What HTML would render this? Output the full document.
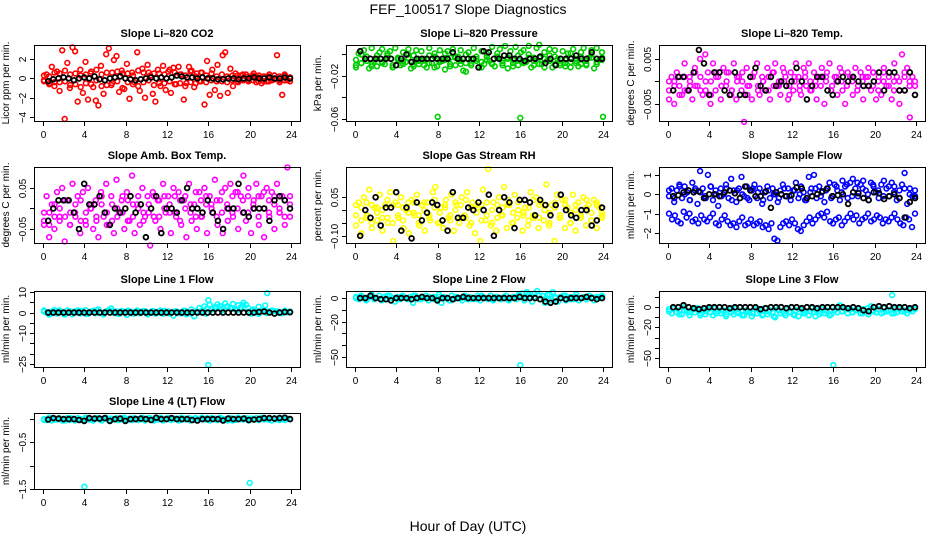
<!DOCTYPE html>
<html><head><meta charset="utf-8"><style>
body{margin:0;background:#fff}
svg{display:block}
text{font-family:"Liberation Sans",sans-serif}
</style></head><body>
<svg id="c" width="936" height="540" viewBox="0 0 936 540">
<text x="468" y="14" text-anchor="middle" font-size="14">FEF_100517  Slope Diagnostics</text>
<text x="468" y="531" text-anchor="middle" font-size="14">Hour of Day (UTC)</text>
</svg>
<script>
// ---- data (colored = individual slopes, black = means) ----
const hourTicks=[0,4,8,12,16,20,24];
const co2Vals=[-0.3,0.4,-0.6,1.2,-0.8,0.7,-1.3,2.9,-4.2,1.6,-1.0,3.2,2.8,-2.4,0.9,-1.5,1.7,-2.2,0.5,-0.9,-2.3,-2.8,1.3,-1.6,2.5,3.1,-0.7,1.9,2.3,-1.4,0.8,-1.1,1.5,-2.1,0.6,-0.4,2.7,-1.3,1.0,-2.0,1.4,0.3,-1.6,-2.4,0.9,-0.8,1.3,-1.2,0.7,-1.5,1.1,-0.6,1.2,0.4,-2.2,-0.5,1.2,0.8,-0.9,0.5,-0.3,0.6,-2.7,1.8,-1.7,0.9,-1.2,1.4,-1.8,2.4,2.7,-1.5,1.0,-0.8,0.5,-0.4,0.3,-0.2,0.4,-0.3,0.2,0.5,-0.4,0.3,-0.5,0.2,-0.3,0.4,-0.2,0.3,2.4,-0.4,-1.7,0.3,-0.2,0.1];
const co2Band=[0.3,-0.5,0.6,-0.4,0.8,-0.7,0.5,-0.9,0.4,-0.6,0.9,-0.8,0.6,-0.5,0.7,-1.0,0.5,-0.6,0.8,-0.4,0.6,-0.7,0.5,-0.5,0.9,-0.6,0.4,-0.8,0.7,-0.5,0.6,-0.4,0.5,-0.3,0.4,-0.4,0.3,-0.3,0.4,-0.2,0.3,-0.3,0.2,-0.3,0.3,-0.2,0.4,-0.3];
const co2Band2=[-0.2,0.2,-0.4,0.5,-0.3,0.4,-0.6,0.3,-0.5,0.7,-0.2,0.4,-0.7,0.6,-0.3,0.5,-0.4,0.3,-0.8,0.6,-0.2,0.5,-0.5,0.4,-0.3,0.6,-0.5,0.3,-0.4,0.2,-0.3,0.3,-0.2,0.2,-0.3,0.2,-0.2,0.3,-0.1,0.2,-0.2,0.1,-0.3,0.2,-0.1,0.2,-0.2,0.1];
const co2Mean=[-0.3,-0.1,0,0.1,0,-0.2,0,0.1,0,0.2,-0.1,-0.2,0,0.1,0.2,0,-0.1,-0.2,-0.1,0,0.1,0,0.1,0,0.1,0.3,0.2,0.1,0.1,0,0.1,0,0,-0.1,-0.1,0,0,-0.1,0,0,0.1,0,0,0.1,0,0,0.1,0];
const presVals=[-0.012,0.001,-0.008,0.004,-0.002,-0.013,0.006,-0.006,-0.011,0.002,0.005,-0.009,-0.003,0.003,-0.012,0.006,-0.004,-0.010,0.002,-0.007,0.005,-0.013,-0.001,0.004,-0.009,0.003,-0.005,-0.012,0.006,-0.008,0.001,-0.011,0.004,-0.006,-0.014,0.003,-0.003,0.005,-0.010,-0.002,0.004,-0.015,-0.016,0.002,-0.008,0.006,-0.004,-0.012,0.003,-0.009,0.001,-0.006,0.007,-0.011,-0.002,0.005,-0.008,0.008,-0.013,0.003,-0.005,0.007,-0.010,0.002,0.004,-0.007,0.008,-0.012,-0.003,0.006,0.009,-0.009,0.002,-0.006,0.005,-0.012,0.004,-0.004,-0.010,0.003,-0.008,0.001,-0.012,0.005,-0.006,-0.011,0.002,0.006,-0.009,-0.003,0.004,-0.013,0.006,-0.005,0.002];
const presBand=[-0.005,-0.008,-0.002,-0.009,-0.004,-0.007,-0.001,-0.010,-0.005,-0.006,-0.003,-0.009,-0.006,-0.004,-0.008,-0.002,-0.007,-0.005,-0.009,-0.003,-0.006,-0.008,-0.004,-0.002,-0.007,-0.005,-0.009,-0.003,-0.006,-0.004,-0.008,-0.005,-0.007,-0.003,-0.006,-0.009,-0.004,-0.006,-0.002,-0.008,-0.005,-0.007,-0.004,-0.009,-0.006,-0.003,-0.007,-0.005];
const presBand2=[-0.010,0.0,-0.006,-0.011,-0.001,-0.008,0.001,-0.012,-0.003,-0.009,0.0,-0.011,-0.004,-0.010,-0.001,-0.012,-0.006,0.001,-0.011,-0.002,-0.009,0.0,-0.010,-0.006,-0.012,-0.002,-0.008,0.001,-0.010,-0.003,-0.011,-0.001,-0.008,0.0,-0.010,-0.003,-0.012,-0.001,-0.009,-0.004,-0.011,0.001,-0.008,-0.002,-0.010,0.0,-0.009,-0.003];
const presOutHours=[8,16,24];
const presOutVals=[-0.058,-0.059,-0.058];
const presMean=[0.003,-0.004,-0.004,-0.004,-0.004,-0.004,-0.004,-0.010,-0.004,0.0,-0.007,-0.004,-0.004,-0.004,-0.004,-0.004,-0.004,-0.004,0.002,-0.004,-0.004,-0.004,-0.004,-0.012,0.003,0.002,-0.004,-0.004,-0.001,-0.001,-0.004,-0.004,-0.006,-0.004,-0.004,-0.002,-0.008,-0.004,-0.010,-0.004,-0.004,-0.004,-0.001,-0.004,-0.004,0.002,-0.004,-0.004];
const tempVals=[-0.004,0.001,-0.005,0.002,-0.001,-0.003,0.004,-0.002,0.001,-0.004,0.003,-0.001,0.005,-0.003,0.006,0.002,-0.005,0.004,-0.002,0.001,-0.004,0.003,-0.001,0.002,-0.003,0.004,-0.004,0.001,-0.002,-0.009,0.003,-0.001,-0.004,0.002,0.004,-0.003,0.001,-0.002,0.003,-0.004,0.002,0.004,-0.001,-0.003,0.003,0.001,-0.004,0.002,-0.002,0.004,0.001,-0.003,0.003,-0.001,0.004,-0.002,0.002,-0.004,0.001,0.003,-0.005,0.002,0.004,-0.001,0.001,-0.003,0.003,-0.002,-0.005,0.002,0.001,-0.003,0.003,-0.001,0.002,-0.004,0.001,0.003,-0.002,0.002,-0.004,0.001,-0.003,0.003,-0.001,0.002,-0.004,0.004,0.001,-0.005,0.006,-0.002,0.003,-0.008,0.001,-0.003];
const tempBand=[0,-0.001,0.001,-0.002,0,-0.001,0.001,-0.002,0,0.002,-0.001,0,-0.002,0.001,0,-0.001,0.001,-0.002,0,0.001,-0.001,0,0.002,-0.001,0,-0.002,0.001,0,-0.001,0.001,0,-0.002,0.001,0,-0.001,0.001,-0.002,0,0.001,-0.001,0,0.002,-0.001,0,-0.002,0.001,0,-0.001];
const tempBand2=[-0.002,0.0,-0.003,0.001,-0.001,0.002,-0.002,0.0,-0.003,0.001,-0.001,0.002,-0.002,0.0,0.002,-0.003,0.001,-0.001,0.0,-0.002,0.002,-0.001,0.0,-0.003,0.001,-0.001,0.002,-0.002,0.0,-0.001,0.001,-0.002,0.0,0.002,-0.001,0.0,-0.002,0.001,-0.001,0.002,-0.002,0.0,0.001,-0.002,0.0,0.002,-0.001,0.0];
const tempMean=[-0.002,0.001,0.001,-0.002,0.002,0.007,0.004,-0.003,0.002,0.002,-0.002,-0.003,0.002,-0.003,-0.003,0.001,0.003,-0.001,-0.002,0.001,-0.001,0.0,-0.001,0.0,0.003,0.0,-0.004,-0.001,0.001,0.001,-0.002,-0.003,0.0,0.001,0.0,0.001,0.0,-0.001,-0.001,0.0,0.002,-0.002,0.002,0.002,-0.002,-0.002,0.002,-0.003];
const ambVals=[-0.04,0.03,-0.07,0.01,-0.05,0.04,-0.02,0.05,-0.08,0.02,-0.04,0.06,-0.01,0.03,-0.06,0.04,-0.03,0.05,0.0,-0.05,0.02,-0.07,0.04,-0.02,0.06,-0.04,0.03,-0.06,0.07,-0.01,0.02,-0.05,0.04,-0.03,0.08,-0.06,0.01,-0.04,0.05,-0.02,0.03,-0.09,0.04,-0.03,0.02,-0.05,0.06,-0.01,0.03,-0.06,0.05,-0.02,0.04,-0.04,0.02,-0.07,0.06,-0.03,0.01,-0.05,0.04,-0.02,0.05,-0.06,0.03,-0.01,0.07,-0.04,0.02,-0.06,0.05,-0.03,0.06,-0.02,0.04,-0.05,0.03,0.08,-0.03,0.05,-0.06,0.02,0.06,-0.04,0.03,-0.07,0.05,-0.02,0.04,-0.05,0.06,-0.01,0.03,-0.04,0.10,-0.02];
const ambBand=[-0.03,-0.01,-0.02,0.0,-0.02,-0.01,0.01,-0.03,-0.01,0.0,-0.02,0.01,-0.01,-0.03,0.0,-0.01,0.02,-0.02,0.0,-0.01,0.01,-0.02,0.02,0.0,0.01,-0.01,0.02,0.0,0.01,-0.02,0.02,0.01,0.0,0.02,-0.01,0.01,0.03,0.0,0.02,-0.01,0.01,0.03,0.0,0.02,0.01,-0.01,0.02,0.01];
const ambBand2=[-0.01,-0.04,0.01,-0.03,0.02,-0.04,-0.02,0.02,-0.04,0.01,-0.03,0.03,-0.04,0.01,-0.02,0.03,-0.03,0.01,0.03,-0.03,-0.01,0.03,-0.02,0.03,-0.01,0.03,-0.03,0.03,-0.01,0.04,-0.02,0.03,0.01,-0.02,0.04,0.0,-0.01,0.04,-0.01,0.03,0.0,-0.02,0.04,-0.01,0.03,0.0,-0.02,0.03];
const ambMean=[-0.03,0.0,0.02,0.02,0.02,-0.01,-0.05,0.06,0.01,0.01,0.03,-0.01,-0.04,0.0,-0.01,0.0,0.03,-0.01,0.01,-0.07,0.0,0.03,-0.06,0.0,0.0,-0.01,0.02,0.05,0.0,0.0,-0.01,0.02,-0.01,-0.03,-0.05,0.0,0.0,0.06,-0.01,-0.02,0.0,0.0,0.0,-0.03,0.02,0.03,0.02,0.0];
const rhVals=[-0.06,0.03,-0.09,0.05,-0.02,0.08,-0.07,0.01,-0.04,0.06,-0.08,0.02,-0.05,0.07,-0.12,0.03,-0.03,0.05,-0.07,0.0,-0.09,0.04,-0.02,0.06,-0.06,0.02,-0.08,0.03,-0.04,0.07,0.09,-0.05,0.01,-0.07,0.04,-0.03,0.06,-0.08,0.02,-0.05,0.05,-0.02,0.07,-0.06,0.03,-0.09,0.01,-0.12,0.08,-0.04,0.16,-0.06,0.03,-0.08,0.05,-0.02,0.09,-0.07,0.02,-0.05,0.06,-0.03,0.04,-0.08,0.01,-0.06,0.07,-0.02,0.05,-0.07,0.03,-0.04,0.10,-0.06,0.02,-0.12,0.06,-0.03,0.04,-0.07,0.01,-0.05,0.06,-0.08,0.03,-0.02,0.05,-0.06,0.02,-0.04,0.04,-0.07,0.01,-0.03];
const rhBand=[-0.02,0.01,-0.03,0.02,-0.01,0.0,-0.03,0.02,-0.02,0.01,-0.01,0.03,-0.02,0.0,-0.03,0.01,-0.01,0.02,-0.02,0.0,0.02,-0.03,0.01,-0.01,0.02,-0.02,0.0,-0.03,0.01,0.02,-0.01,0.0,-0.02,0.01,-0.03,0.02,0.0,-0.01,0.01,-0.02,0.02,-0.01,0.0,-0.03,0.01,-0.01,0.02,-0.02];
const rhBand2=[0.02,-0.04,0.03,-0.05,0.01,-0.03,0.04,-0.05,0.02,-0.04,0.03,-0.01,-0.05,0.03,-0.02,0.04,-0.05,0.01,-0.04,0.03,-0.03,0.04,-0.05,0.02,-0.04,0.03,-0.05,0.02,-0.02,0.04,-0.05,0.03,-0.01,-0.04,0.04,-0.03,0.02,-0.05,0.03,-0.03,0.04,-0.05,0.02,-0.02,0.04,-0.04,0.03,-0.01];
const rhMean=[-0.10,0.0,-0.03,0.05,-0.06,0.01,0.01,0.07,-0.08,0.01,-0.11,0.03,-0.04,-0.01,0.03,0.02,-0.04,-0.08,0.07,-0.03,-0.03,0.01,0.0,0.03,0.0,0.06,-0.10,0.0,0.05,0.03,-0.07,0.04,0.04,0.03,-0.02,0.04,0.02,-0.02,0.02,0.06,0.0,-0.02,-0.03,0.0,0.0,-0.06,-0.04,0.01];
const sampleUpper=[-0.1,0.3,-0.4,0.2,0.5,-0.2,0.4,0.1,-0.3,0.6,0.2,-0.5,1.2,0.3,-0.1,1.0,0.4,-0.3,0.2,-0.6,0.3,0.0,0.5,-0.2,0.8,0.2,-0.4,0.3,0.9,-0.1,0.4,-0.3,0.2,0.5,-0.2,0.3,-0.5,0.1,0.4,-0.2,0.3,0.0,-0.4,0.2,0.5,-0.1,0.3,-0.3,0.2,0.6,-0.2,0.4,0.1,-0.3,0.9,0.3,1.0,-0.2,0.4,0.1,-0.4,0.3,0.6,-0.1,0.5,0.2,-0.3,0.7,0.4,-0.2,0.6,0.8,0.3,-0.1,0.5,0.7,0.2,-0.3,0.6,0.4,0.1,-0.2,0.5,0.7,0.3,-0.1,0.6,0.4,-0.3,0.2,0.5,1.1,-0.5,0.3,-0.1,0.2];
const sampleUpper2=[0.2,-0.2,0.4,0.0,-0.3,0.3,0.1,-0.2,0.4,0.0,-0.1,0.3,-0.3,0.2,0.0,-0.2,0.3,0.1,-0.3,0.2,0.0,-0.2,0.3,-0.1,0.2,0.0,-0.3,0.1,0.3,-0.1,0.2,-0.2,0.4,0.1,0.5,-0.1,0.6,0.3,0.0,0.5,0.2,-0.1,0.4,0.1,-0.2,0.3,0.0,-0.1];
const sampleLower=[-1.0,-1.3,-1.1,-1.4,-1.5,-0.9,-1.2,-1.0,-1.4,-1.3,-1.5,-1.1,-1.3,-1.4,-1.2,-1.0,-1.5,-1.6,-1.3,-1.1,-1.4,-1.6,-1.5,-1.7,-1.4,-1.2,-1.6,-1.5,-1.3,-1.6,-1.5,-1.4,-1.7,-1.6,-1.8,-1.5,-2.3,-2.4,-1.7,-1.5,-1.4,-1.6,-1.3,-1.5,-1.8,-1.9,-1.6,-1.4,-1.2,-1.5,-1.3,-1.1,-1.0,-1.2,-0.9,-1.4,-1.5,-1.3,-1.2,-1.6,-1.4,-1.2,-1.0,-1.3,-1.1,-1.5,-1.3,-1.2,-1.0,-1.4,-1.3,-1.1,-1.2,-1.5,-1.3,-1.4,-1.2,-1.0,-1.3,-1.5,-1.6,-1.2,-1.3,-1.7,-1.0];
const sampleMean=[-0.1,-0.05,0.1,0.2,0.1,0.15,-0.2,0,0,-0.1,0.1,0.2,0.05,-0.2,0.4,0.2,-0.1,-0.1,0.15,-0.7,0.1,0,-0.1,-0.05,0.35,0.3,-0.2,-0.1,0,0.15,0.3,-0.1,-0.05,0,-0.5,0.1,0.05,-0.2,-0.3,0.1,0.05,-0.25,-0.1,0,-0.2,-1.2,-0.4,-0.2];
const line1Vals=[1,0,-1,0.5,1.2,-0.5,0.8,0,-1,1,0.3,-0.8,0.5,1,-0.4,0.2,1.2,-0.6,0.4,0.9,-0.3,1.5,0,-0.9,0.6,1.2,2.0,-0.2,0.5,-0.7,0.8,0.1,-1.1,0.6,0.2,-0.4,1.0,-0.3,0.5,0.7,-0.9,0.2,0.8,-0.5,0.3,1.0,-0.6,0.1,0.5,-0.2,-1.5,0.6,0.2,-0.4,0.9,-0.8,0.3,1.5,-1.8,0.4,2.2,1.0,3.0,2.0,3.8,1.5,2.6,4.0,3.2,2.0,4.5,3.0,2.4,4.2,1.5,3.6,2.5,4.8,3.8,0.4,-0.5,1.0,0.3,-0.6,0.8,1.2,-0.2,0.5,1.0,-0.4,0.6,0.2,-0.3,0.9,0.1,0.5];
const line1Band=[0.5,-0.5,0.3,1.0,-0.3,0.6,0.0,0.8,-0.6,0.4,1.0,-0.2,0.5,0.8,-0.4,0.2,0.9,-0.5,0.4,0.7,-0.3,0.6,0.0,0.8,-0.4,0.5,0.1,0.9,-0.3,0.6,0.2,-0.5,1.5,2.5,1.0,3.0,2.0,1.2,3.5,2.2,1.5,2.8,0.6,0.2,0.8,-0.2,0.5,0.3];
const line1OutHours=[16,16,21.7,21.5];
const line1OutVals=[6,-25.5,9.5,3.5];
const line1Mean=[0,0,0,0,0,0,0,0,0,0,0,0,0,0,0,0,0,0,0,0,0,0,0,0,0,0,0,0,0,0,0,0,0,0,0,0,0,0,0,0,0,0.3,0.5,0,-0.5,0,0.3,0.2];
const line2Vals=[1,-1,2,0,-2,1,3,-1,0,2,-2,1,-1,2,0,-3,1,-1,2,0,-1,1,-4,2,0,-1,1,2,-2,0,1,-1,3,-4,1,0,-2,2,-1,1,0,-2,2,-1,1,0,-1,2,-2,1,0,-1,2,-2,1,0,-1,1,2,-2,0,1,-1,3,4,-2,5,1,-3,4,6,-1,2,-4,3,-2,5,0,-3,1,2,-2,0,1,-1,3,-2,0,1,-1,2,0,-2,1,0,2];
const line2Band=[0,1,-1,1,0,-1,2,0,-1,1,0,2,-1,0,1,-1,1,0,-2,1,0,1,-1,0,2,0,-1,1,0,-1,1,2,0,3,1,2,-1,3,1,0,2,-1,1,0,-1,1,0,1];
const line2OutHours=[16];
const line2OutVals=[-57];
const line2Mean=[0,0,2,0,-1,-1,-2,0,0,0,-1,0,1,0,0,-2,0,0,-1,0,1,0,0,0,0,0,0,0,0,0,0,1,0,0,0,-1,-3,-4,-3,0,-1,0,0,0,1,0,-1,0];
const line3Vals=[-2,-6,-1,-5,-3,-7,0,-4,-8,-2,-5,-1,-6,-3,-7,-2,-5,-8,-1,-4,-6,-3,-9,-2,-5,-7,-1,-6,-4,-8,-3,-5,-9,-2,-6,-4,-8,-1,-7,-3,-5,-10,-2,-6,-4,-8,-1,-5,-7,-3,-9,-2,-6,-4,-8,-1,-5,-3,-7,-2,-6,-4,-8,0,-3,-5,2,-4,-1,-6,-2,-5,-3,-1,-6,-2,-4,-7,1,-3,-5,-2,-6,-1,-4,-3,-6,-2,-5,-1,-4,-3,-6,-2,-4,-1];
const line3Band=[-4,-1,-7,-3,-5,-2,-8,-4,-1,-6,-3,-7,-2,-5,-8,-4,-6,-2,-7,-4,-9,-3,-6,-5,-8,-2,-6,-4,-9,-5,-3,-7,-1,-4,-2,-5,-3,-6,-1,-4,-2,-5,-3,-6,-2,-4,-3,-2];
const line3OutHours=[16,21.7];
const line3OutVals=[-57,12];
const line3Mean=[0,0,2,0,-1,-2,-1,0,0,0,0,-1,0,0,0,0,0,-2,-1,0,0,0,-1,0,0,-1,0,0,-1,0,0,0,0,0,-1,0,-1,-3,-4,0,1,0,1,0,0,0,-1,0];
const line4Vals=[0.0,-0.02,0.03,-0.03,0.01,-0.01,0.02,-0.03,0.0,0.02,-0.02,0.01,-0.03,0.02,0.0,-0.02,0.03,-0.01,0.0,-0.03,0.01,0.02,-0.02,0.0,0.03,-0.03,0.01,-0.01,0.02,-0.02,0.0,0.03,-0.03,0.01,-0.02,0.02,0.0,-0.01,0.03,-0.03,0.01,0.02,-0.02,0.0,-0.01,0.03,-0.03,0.01,0.02,-0.02,0.0,0.01,-0.03,0.03,-0.01,0.0,0.02,-0.02,0.01,-0.03,0.0,0.03,-0.01,0.02,-0.03,0.0,0.01,-0.02,0.03,-0.01,0.0,-0.03,0.02,0.01,-0.02,0.03,0.0,-0.01,0.02,-0.03,0.01,0.0,0.02,-0.02,0.03,-0.01,0.0,0.01,-0.03,0.02,-0.01,0.03,0.0,-0.02,0.01,0.0];
const line4Band=[-0.02,0.02,-0.01,0.01,-0.03,0.02,0.0,-0.02,0.01,-0.01,0.02,-0.03,0.01,0.0,-0.02,0.02,-0.01,0.01,-0.02,0.0,0.02,-0.03,0.01,-0.01,0.02,0.0,-0.02,0.01,-0.03,0.02,0.0,-0.01,0.02,-0.02,0.01,0.0,-0.03,0.02,-0.01,0.01,0.0,-0.02,0.02,-0.01,0.01,-0.02,0.02,0.0];
const line4OutHours=[4,20];
const line4OutVals=[-1.45,-1.37];
const line4Mean=[-0.01,0.02,0.01,0.0,0.0,0.0,-0.02,-0.04,0.02,0.01,0.01,0.02,-0.04,0.0,0.01,-0.04,0.0,0.0,0.01,0.0,-0.02,0.03,0.0,0.0,0.02,0.0,0.0,0.0,-0.02,-0.03,0.0,0.0,0.0,0.0,-0.03,0.01,0.0,0.0,0.01,-0.02,-0.01,0.0,0.02,0.02,0.01,0.02,0.03,0.0];

// ---- layout ----
const colLeft=[34,346,659], rowTop=[45,167,291,413], PW=266, PH=76;
const panels=[
 {name:'co2',title:'Slope Li\u2013820 CO2',ylab:'Licor ppm per min.',color:'#ff0000',min:-4.41,max:3.45,ticks:[-4,-2,0,2],labels:['\u22124','\u22122','0','2'],series:[co2Vals,co2Band,co2Band2],oh:[],ov:[],mean:co2Mean},
 {name:'pressure',title:'Slope Li\u2013820 Pressure',ylab:'kPa per min.',color:'#00cd00',min:-0.0619,max:0.0088,ticks:[-0.06,-0.04,-0.02,0],labels:['\u22120.06','','\u22120.02',''],series:[presVals,presBand,presBand2],oh:presOutHours,ov:presOutVals,mean:presMean},
 {name:'li820-temp',title:'Slope Li\u2013820 Temp.',ylab:'degrees C per min.',color:'#ff00ff',min:-0.0088,max:0.0081,ticks:[-0.005,0,0.005],labels:['\u22120.005','','0.005'],series:[tempVals,tempBand,tempBand2],oh:[],ov:[],mean:tempMean},
 {name:'amb-box-temp',title:'Slope Amb. Box Temp.',ylab:'degrees C per min.',color:'#ff00ff',min:-0.084,max:0.101,ticks:[-0.05,0,0.05],labels:['\u22120.05','','0.05'],series:[ambVals,ambBand,ambBand2],oh:[],ov:[],mean:ambMean},
 {name:'gas-stream-rh',title:'Slope Gas Stream RH',ylab:'percent per min.',color:'#ffff00',min:-0.128,max:0.168,ticks:[-0.1,-0.05,0,0.05],labels:['\u22120.10','','','0.05'],series:[rhVals,rhBand,rhBand2],oh:[],ov:[],mean:rhMean},
 {name:'sample-flow',title:'Slope Sample Flow',ylab:'ml/min per min.',color:'#0000ff',min:-2.52,max:1.41,ticks:[-2,-1,0,1],labels:['\u22122','\u22121','0','1'],series:[sampleUpper,sampleUpper2,sampleLower],oh:[],ov:[],mean:sampleMean},
 {name:'line1-flow',title:'Slope Line 1 Flow',ylab:'ml/min per min.',color:'#00ffff',min:-26.5,max:10.5,ticks:[-25,-20,-15,-10,-5,0,5,10],labels:['\u221225','','','\u221210','','0','','10'],series:[line1Vals,line1Band],oh:line1OutHours,ov:line1OutVals,mean:line1Mean},
 {name:'line2-flow',title:'Slope Line 2 Flow',ylab:'ml/min per min.',color:'#00ffff',min:-58.6,max:6,ticks:[-50,-40,-30,-20,-10,0],labels:['\u221250','','','\u221220','','0'],series:[line2Vals,line2Band],oh:line2OutHours,ov:line2OutVals,mean:line2Mean},
 {name:'line3-flow',title:'Slope Line 3 Flow',ylab:'ml/min per min.',color:'#00ffff',min:-59,max:16,ticks:[-50,-40,-30,-20,-10,0,10],labels:['\u221250','','','\u221220','','0',''],series:[line3Vals,line3Band],oh:line3OutHours,ov:line3OutVals,mean:line3Mean},
 {name:'line4-flow',title:'Slope Line 4 (LT) Flow',ylab:'ml/min per min.',color:'#00ffff',min:-1.5,max:0.13,ticks:[-1.5,-1,-0.5,0],labels:['\u22121.5','','\u22120.5',''],series:[line4Vals,line4Band],oh:line4OutHours,ov:line4OutVals,mean:line4Mean}
];
const NS='http://www.w3.org/2000/svg', svg=document.getElementById('c');
function mk(tag,attrs,parent){const e=document.createElementNS(NS,tag);for(const k in attrs)e.setAttribute(k,attrs[k]);(parent||svg).appendChild(e);return e;}
function circle(g,cx,cy,col,sw){return mk('circle',{cx:cx.toFixed(1),cy:cy.toFixed(1),r:2.4,fill:'none',stroke:col,'stroke-width':sw},g);}
panels.forEach((p,i)=>{
 const L=colLeft[i%3], T=rowTop[Math.floor(i/3)];
 const g=mk('g',{});
 
 
 const xs=h=>L+9+h*(248/24);
 const ys=v=>T+PH-(v-p.min)/(p.max-p.min)*PH;
 const t=mk('text',{x:L+PW/2,y:T-8,'text-anchor':'middle','font-size':11,'font-weight':'bold'},g);t.textContent=p.title;
 
 
 const yl=mk('text',{x:0,y:0,'text-anchor':'middle','font-size':10,transform:`translate(${L-25},${T+PH/2}) rotate(-90)`},g);yl.textContent=p.ylab;
 
 
 const pts=mk('g',{},g);
 
 
 p.series.forEach(s=>{s.forEach((v,k)=>{const h=0.1+23.8*k/(s.length-1);const c=circle(pts,xs(h),ys(v),p.color,1.6);
  
  });});
 p.oh.forEach((h,k)=>{const c=circle(pts,xs(h),ys(p.ov[k]),p.color,1.6);
  
  });
 const mg=mk('g',{},g);
 
 
 p.mean.forEach((v,k)=>{const h=0.5+23.4*k/(p.mean.length-1);const c=circle(mg,xs(h),ys(v),'#000',1.8);
  
  });
 const b=mk('rect',{x:L+0.5,y:T+0.5,width:PW,height:PH,fill:'none',stroke:'#000','stroke-width':1},g);
 
 
 hourTicks.forEach(h=>{const x=Math.round(xs(h))+0.5;mk('line',{x1:x,x2:x,y1:T+PH+0.5,y2:T+PH+5,stroke:'#000'},g);
  const tl=mk('text',{x:x,y:T+PH+17,'text-anchor':'middle','font-size':10},g);tl.textContent=h;
  
  });
 mk('line',{x1:Math.round(xs(0))+0.5,x2:Math.round(xs(24))+0.5,y1:T+PH+0.5,y2:T+PH+0.5,stroke:'#000'},g);
 p.ticks.forEach((v,k)=>{const y=Math.round(ys(v))+0.5;mk('line',{x1:L+0.5,x2:L-4,y1:y,y2:y,stroke:'#000'},g);
  if(p.labels[k]){const tl=mk('text',{x:0,y:0,'text-anchor':'middle','font-size':10,transform:`translate(${L-8},${y}) rotate(-90)`},g);tl.textContent=p.labels[k];
  
  }});
});
</script>
</body></html>
